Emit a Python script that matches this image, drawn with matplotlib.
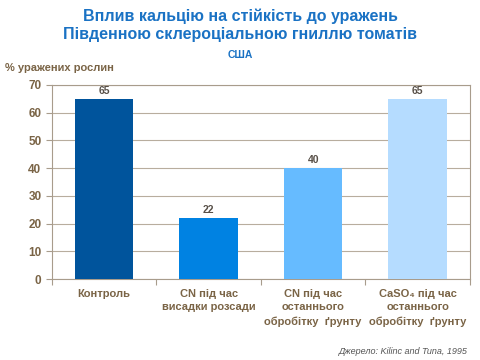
import matplotlib
matplotlib.use("Agg")
import matplotlib.pyplot as plt

plt.rcParams['font.family'] = ['Liberation Sans', 'DejaVu Sans']

categories = ["Контроль", "CN під час\nвисадки розсади",
              "CN під час\nостаннього\nобробітку  ґрунту",
              "CaSO₄ під час\nостаннього\nобробітку  ґрунту"]
values = [65, 22, 40, 65]
colors = ["#00549c", "#0082e2", "#66bbff", "#b5dcff"]

txt = "#7a6446"
fig = plt.figure(figsize=(4.8, 3.6), dpi=100)
ax = fig.add_axes([0.108, 0.225, 0.871, 0.539])

x = range(len(values))
ax.bar(x, values, width=0.56, color=colors, zorder=3)
for i, v in zip(x, values):
    ax.text(i, v + 1, str(v), ha="center", va="bottom", fontsize=7.5,
            fontweight="bold", color="#585048")

ax.set_xlim(-0.5, 3.5)
ax.set_ylim(0, 70)
ax.set_yticks(range(0, 71, 10))
ax.grid(axis="y", color="#b8ad9e", linewidth=0.8, zorder=0)
for s in ax.spines.values():
    s.set_color("#a89c8c")
    s.set_linewidth(0.8)
ax.set_xticks([-0.5, 0.5, 1.5, 2.5, 3.5])
ax.set_xticklabels([])
ax.tick_params(axis="x", length=4, color="#a89c8c")
ax.tick_params(axis="y", length=4, color="#a89c8c", labelsize=8.5,
               labelcolor=txt)
for lbl in ax.get_yticklabels():
    lbl.set_fontweight("bold")
for i, c in zip(x, categories):
    ax.text(i, -3.5, c, ha="center", va="top", fontsize=8, fontweight="bold",
            color=txt, linespacing=1.45, clip_on=False)

fig.text(0.5, 0.975, "Вплив кальцію на стійкість до уражень\nПівденною склероціальною гниллю томатів",
         ha="center", va="top", fontsize=11.5, fontweight="bold",
         color="#1a72c4", linespacing=1.25)
fig.text(0.5, 0.862, "США", ha="center", va="top", fontsize=7.5,
         fontweight="bold", color="#1a72c4")
fig.text(0.01, 0.812, "% уражених рослин", ha="left", va="center",
         fontsize=8, fontweight="bold", color=txt)
fig.text(0.975, 0.012, "Джерело: Kilinc and Tuna, 1995", ha="right",
         va="bottom", fontsize=6.5, style="italic", color="#555555")

fig.savefig("out.png", dpi=100)
